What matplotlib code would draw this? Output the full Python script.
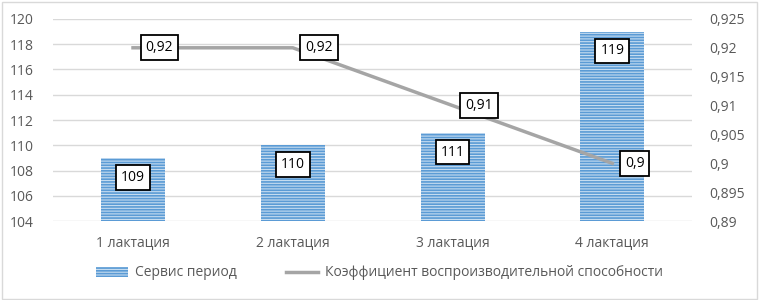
import matplotlib.pyplot as plt
import matplotlib.patches as mpatches
import matplotlib.lines as mlines
import numpy as np

plt.rcParams['font.family'] = ['Open Sans', 'DejaVu Sans']
plt.rcParams['hatch.linewidth'] = 1.2

categories = ["1 лактация", "2 лактация", "3 лактация", "4 лактация"]
servis_period = [109, 110, 111, 119]
koef = [0.92, 0.92, 0.91, 0.90]
bar_name = "Сервис период"
line_name = "Коэффициент воспроизводительной способности"

blue = '#5b9bd5'
gray_text = '#595959'

fig = plt.figure(figsize=(7.59, 3.0), dpi=100)
ax = fig.add_axes([0.070, 0.263, 0.842, 0.674])
x = np.arange(len(categories))

ax.bar(x, servis_period, width=0.4, bottom=0, color='#c5dcf0',
       edgecolor=blue, hatch='------', linewidth=0, zorder=2)
ax.set_ylim(104, 120)
ax.set_yticks(np.arange(104, 121, 2))
ax.set_xlim(-0.5, 3.5)
ax.set_xticks(x)
ax.set_xticklabels(categories)
ax.grid(axis='y', color='#d9d9d9', linewidth=1, zorder=0)
ax.set_axisbelow(True)
for s in ax.spines.values():
    s.set_visible(False)
ax.tick_params(length=0, labelsize=10, colors=gray_text, pad=10)
ax.tick_params(axis='y', pad=14)

bbox = dict(boxstyle='square,pad=0.35', facecolor='white', edgecolor='black', linewidth=1.3)
for xi, v in zip(x, servis_period):
    ax.annotate(str(v), (xi, v), xytext=(0, -14), textcoords='offset points',
                ha='center', va='center', fontsize=10, bbox=bbox, zorder=5)

ax2 = ax.twinx()
ax2.plot(x, koef, color='#a5a5a5', linewidth=2.5, zorder=3)
ax2.set_ylim(0.89, 0.925)
yt = np.arange(0.89, 0.9251, 0.005)
ax2.set_yticks(yt)
ax2.set_yticklabels([f"{v:g}".replace('.', ',') for v in np.round(yt, 3)])
for s in ax2.spines.values():
    s.set_visible(False)
ax2.tick_params(length=0, labelsize=10, colors=gray_text, pad=12)
for xi, v in zip(x, koef):
    ax2.annotate(f"{v:g}".replace('.', ','), (xi, v), xytext=(9, 0), textcoords='offset points',
                 ha='left', va='center', fontsize=10, bbox=bbox, zorder=5)

h1 = mpatches.Patch(facecolor='#c5dcf0', edgecolor=blue, hatch='------', linewidth=0)
h2 = mlines.Line2D([], [], color='#a5a5a5', linewidth=2.5)
leg = fig.legend([h1, h2], [bar_name, line_name], loc='center', bbox_to_anchor=(0.5, 0.09),
                 ncol=2, frameon=False, fontsize=10, handlelength=2.3, columnspacing=3.6,
                 handletextpad=0.5)
for t in leg.get_texts():
    t.set_color(gray_text)

fig.patches.append(mpatches.Rectangle((0.002, 0.004), 0.995, 0.99, transform=fig.transFigure,
                                      fill=False, edgecolor='#d9d9d9', linewidth=1))

fig.savefig('out.png', dpi=100)
